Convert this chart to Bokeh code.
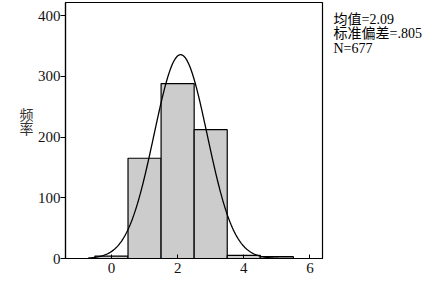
import numpy as np
from bokeh.plotting import figure
from bokeh.layouts import row
from bokeh.models import Range1d, FixedTicker
from bokeh.core.properties import value
from bokeh.embed import file_html
from bokeh.resources import INLINE

# data
bin_centers = [0, 1, 2, 3, 4, 5]
counts = [4, 165, 288, 212, 5, 3]
mean_val = 2.09
std_val = 0.805
n_total = 677
bin_width = 1.0
stats_lines = ["均值=2.09", "标准偏差=.805", "N=677"]
y_label_chars = ["频", "率"]
x_ticks = [0, 2, 4, 6]
y_ticks = [0, 100, 200, 300, 400]

SERIF = "Liberation Serif, Noto Sans CJK SC"
H = 281
LEFT_W = 34


def text_panel(w):
    f = figure(width=w, height=H, output_backend="svg", toolbar_location=None,
               x_range=Range1d(0, w), y_range=Range1d(0, H),
               x_axis_type=None, y_axis_type=None,
               min_border_left=0, min_border_right=0, min_border_top=0, min_border_bottom=0)
    f.grid.visible = False
    f.outline_line_color = None
    return f


# left panel: stacked y-axis label
left = text_panel(LEFT_W)
left.text(x=[26] * len(y_label_chars), y=[H - (124 + 15 * i) for i in range(len(y_label_chars))],
          text=y_label_chars, text_font=value(SERIF), text_font_size="14px", text_color="#333333",
          text_align="center", text_baseline="middle")

# main plot
p = figure(width=326 - LEFT_W, height=H, output_backend="svg", toolbar_location=None,
           x_range=Range1d(-1.39, 6.38), y_range=Range1d(0, 421.4),
           min_border_left=65 - LEFT_W, min_border_right=4, min_border_top=2, min_border_bottom=23)
p.frame_width = 257
p.frame_height = 256
p.grid.visible = False
p.outline_line_color = "black"
p.outline_line_width = 1.2
p.background_fill_color = "white"
p.border_fill_color = "white"

p.quad(left=[c - bin_width / 2 for c in bin_centers], right=[c + bin_width / 2 for c in bin_centers],
       bottom=0, top=counts, fill_color="#cccccc", line_color="black", line_width=1.2)

xs = np.linspace(-0.7, 5.5, 300)
ys = n_total * bin_width / (std_val * np.sqrt(2 * np.pi)) * np.exp(-0.5 * ((xs - mean_val) / std_val) ** 2)
p.line(xs, ys, line_color="black", line_width=1.3)

for ax in (p.xaxis[0], p.yaxis[0]):
    ax.axis_line_color = "black"
    ax.axis_line_width = 1.2
    ax.major_tick_line_color = "black"
    ax.minor_tick_line_color = None
    ax.major_label_text_font = SERIF
    ax.major_label_text_font_size = "15px"
    ax.major_label_text_color = "#111111"

p.xaxis[0].ticker = FixedTicker(ticks=x_ticks)
p.yaxis[0].ticker = FixedTicker(ticks=y_ticks)
p.xaxis[0].major_tick_in = 4
p.xaxis[0].major_tick_out = 0
p.xaxis[0].major_label_standoff = 4
p.yaxis[0].major_tick_in = 0
p.yaxis[0].major_tick_out = 5
p.yaxis[0].major_label_standoff = 0

# right panel: statistics
right = text_panel(120)
right.text(x=[7] * len(stats_lines), y=[H - (19 + 15.5 * i) for i in range(len(stats_lines))],
           text=stats_lines, text_font=value(SERIF), text_font_size="14px", text_color="black",
           text_align="left", text_baseline="middle")

layout = row(left, p, right, spacing=0)
open("out.html", "w").write(file_html(layout, INLINE))
